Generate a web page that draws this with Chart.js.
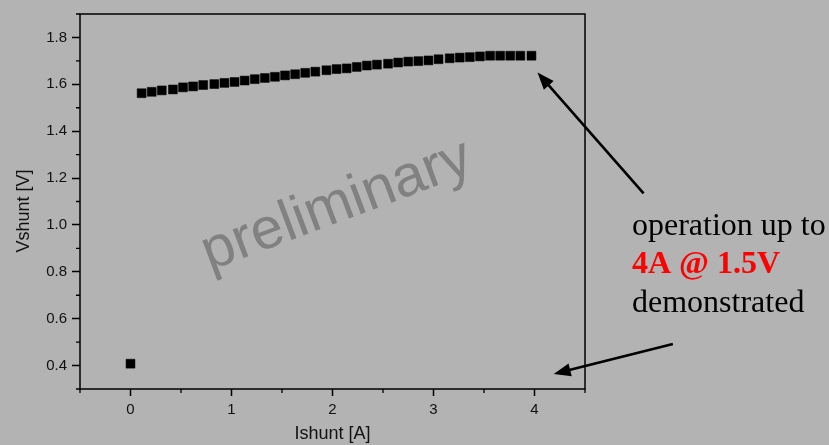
<!DOCTYPE html>
<html>
<head>
<meta charset="utf-8">
<title>Vshunt vs Ishunt</title>
<script src="https://cdn.jsdelivr.net/npm/chart.js@4/dist/chart.umd.min.js"></script>
<style>
  html, body { margin: 0; padding: 0; background: #b3b3b3; }
  #wrap { width: 829px; height: 445px; position: relative; }
</style>
</head>
<body>
<div id="wrap"><canvas id="chart"></canvas></div>
<script>
// Shunt current sweep [A]
const currentA = [
  0.11, 0.21, 0.31, 0.42, 0.52, 0.62, 0.72, 0.83, 0.93, 1.03,
  1.13, 1.23, 1.33, 1.43, 1.53, 1.63, 1.73, 1.83, 1.94, 2.04,
  2.14, 2.24, 2.34, 2.44, 2.55, 2.65, 2.75, 2.85, 2.95, 3.05,
  3.16, 3.26, 3.36, 3.46, 3.56, 3.66, 3.76, 3.86, 3.97
];
// Shunt voltage at each current step [V]
const voltageV = [
  1.562, 1.568, 1.574, 1.578, 1.587, 1.591, 1.597, 1.601, 1.606, 1.610,
  1.616, 1.622, 1.627, 1.632, 1.638, 1.643, 1.649, 1.654, 1.660, 1.665,
  1.668, 1.674, 1.680, 1.684, 1.688, 1.693, 1.697, 1.699, 1.702, 1.707,
  1.711, 1.714, 1.716, 1.719, 1.722, 1.722, 1.722, 1.722, 1.722
];
// Zero-current reading
const idleCurrentA = [0.0];
const idleVoltageV = [0.408];

// Axis ticks
const xTickValues = [0, 1, 2, 3, 4];
const xTickLabels = ['0', '1', '2', '3', '4'];
const xMinorTicks = [-0.5, 0.5, 1.5, 2.5, 3.5, 4.5];
const yTickValues = [0.4, 0.6, 0.8, 1.0, 1.2, 1.4, 1.6, 1.8];
const yTickLabels = ['0.4', '0.6', '0.8', '1.0', '1.2', '1.4', '1.6', '1.8'];
const yMinorTicks = [0.3, 0.5, 0.7, 0.9, 1.1, 1.3, 1.5, 1.7, 1.9];

const xTitle = 'Ishunt [A]';
const yTitle = 'Vshunt [V]';
const watermark = 'preliminary';
const noteLines = ['operation up to', '4A @ 1.5V', 'demonstrated'];

const toPoints = (xs, ys) => xs.map((v, i) => ({ x: v, y: ys[i] }));

const SANS = '"Liberation Sans", Arial, Helvetica, sans-serif';
const SERIF = '"Liberation Serif", "Times New Roman", Times, serif';

function arrow(ctx, x1, y1, x2, y2, headLen, headW) {
  const ang = Math.atan2(y2 - y1, x2 - x1);
  const bx = x2 - headLen * Math.cos(ang);
  const by = y2 - headLen * Math.sin(ang);
  ctx.beginPath();
  ctx.moveTo(x1, y1);
  ctx.lineTo(bx + 2 * Math.cos(ang), by + 2 * Math.sin(ang));
  ctx.stroke();
  ctx.beginPath();
  ctx.moveTo(x2, y2);
  ctx.lineTo(bx + headW / 2 * Math.sin(ang), by - headW / 2 * Math.cos(ang));
  ctx.lineTo(bx - headW / 2 * Math.sin(ang), by + headW / 2 * Math.cos(ang));
  ctx.closePath();
  ctx.fill();
}

const decor = {
  id: 'decor',
  beforeDraw(chart) {
    const { ctx, width, height } = chart;
    ctx.save();
    ctx.fillStyle = '#b3b3b3';
    ctx.fillRect(0, 0, width, height);
    ctx.restore();
  },
  beforeDatasetsDraw(chart) {
    const { ctx, chartArea: a } = chart;
    // diagonal watermark across the plot
    ctx.save();
    ctx.translate(a.left + 257, a.top + 193);
    ctx.rotate(-20.5 * Math.PI / 180);
    ctx.font = '58px ' + SANS;
    ctx.fillStyle = '#818181';
    ctx.textAlign = 'center';
    ctx.textBaseline = 'alphabetic';
    ctx.fillText(watermark, 0, 15);
    ctx.restore();
  },
  afterDraw(chart) {
    const { ctx, chartArea: a, scales: { x, y } } = chart;
    ctx.save();
    // frame
    ctx.strokeStyle = '#000';
    ctx.lineWidth = 1.5;
    ctx.strokeRect(a.left, a.top, a.right - a.left, a.bottom - a.top);
    // minor ticks
    ctx.lineWidth = 1.3;
    ctx.beginPath();
    xMinorTicks.forEach(v => {
      const px = x.getPixelForValue(v);
      ctx.moveTo(px, a.bottom);
      ctx.lineTo(px, a.bottom + 4);
    });
    yMinorTicks.forEach(v => {
      const py = y.getPixelForValue(v);
      ctx.moveTo(a.left, py);
      ctx.lineTo(a.left - 4, py);
    });
    ctx.stroke();

    // vertical axis title
    ctx.save();
    ctx.translate(24, 211);
    ctx.rotate(-Math.PI / 2);
    ctx.font = '18px ' + SANS;
    ctx.fillStyle = '#111';
    ctx.textAlign = 'center';
    ctx.textBaseline = 'middle';
    ctx.fillText(yTitle, 0, 0);
    ctx.restore();

    // arrows pointing at the top of the sweep and at the 4 A end of the axis
    ctx.strokeStyle = '#000';
    ctx.fillStyle = '#000';
    ctx.lineWidth = 2.6;
    arrow(ctx, x.getPixelForValue(5.08), y.getPixelForValue(1.135),
               x.getPixelForValue(4.03), y.getPixelForValue(1.65), 17, 13);
    arrow(ctx, x.getPixelForValue(5.37), y.getPixelForValue(0.492),
               x.getPixelForValue(4.19), y.getPixelForValue(0.364), 17, 13);

    // note text
    const tx = a.right + 47;
    ctx.textAlign = 'left';
    ctx.textBaseline = 'alphabetic';
    ctx.font = '32px ' + SERIF;
    ctx.fillStyle = '#000';
    ctx.fillText(noteLines[0], tx, 235);
    ctx.font = 'bold 32px ' + SERIF;
    ctx.fillStyle = '#ff0000';
    ctx.fillText(noteLines[1], tx, 273);
    ctx.font = '32px ' + SERIF;
    ctx.fillStyle = '#000';
    ctx.fillText(noteLines[2], tx, 312);
    ctx.restore();
  }
};

const pointStyle = {
  pointStyle: 'rect',
  pointRadius: 6.3,
  pointHoverRadius: 6.3,
  pointBackgroundColor: '#000',
  pointBorderColor: '#000',
  pointBorderWidth: 0.5,
  showLine: false
};

new Chart(document.getElementById('chart'), {
  type: 'scatter',
  data: {
    datasets: [
      Object.assign({ label: 'Vshunt', data: toPoints(currentA, voltageV) }, pointStyle),
      Object.assign({ label: 'Vshunt (0 A)', data: toPoints(idleCurrentA, idleVoltageV) }, pointStyle)
    ]
  },
  options: {
    responsive: true,
    maintainAspectRatio: false,
    animation: false,
    layout: { padding: { left: 0, top: 12, right: 244, bottom: 0 } },
    plugins: {
      legend: { display: false },
      tooltip: { enabled: false }
    },
    scales: {
      x: {
        type: 'linear',
        min: -0.5,
        max: 4.5,
        afterFit(s) { s.height = 56; },
        afterBuildTicks(s) { s.ticks = xTickValues.map(v => ({ value: v })); },
        ticks: {
          callback: (v, i) => xTickLabels[i],
          font: { family: SANS, size: 15 },
          color: '#111',
          padding: 5,
          maxRotation: 0
        },
        grid: { drawOnChartArea: false, drawTicks: true, tickLength: 7, tickColor: '#000', tickWidth: 1.5 },
        border: { display: false },
        title: {
          display: true,
          text: xTitle,
          font: { family: SANS, size: 18 },
          color: '#111',
          padding: { top: 0, bottom: 0 }
        }
      },
      y: {
        type: 'linear',
        min: 0.3,
        max: 1.9,
        afterFit(s) { s.width = 80; },
        afterBuildTicks(s) { s.ticks = yTickValues.map(v => ({ value: v })); },
        ticks: {
          callback: (v, i) => yTickLabels[i],
          font: { family: SANS, size: 15 },
          color: '#111',
          padding: 5
        },
        grid: { drawOnChartArea: false, drawTicks: true, tickLength: 8, tickColor: '#000', tickWidth: 1.5 },
        border: { display: false }
      }
    }
  },
  plugins: [decor]
});
</script>
</body>
</html>
